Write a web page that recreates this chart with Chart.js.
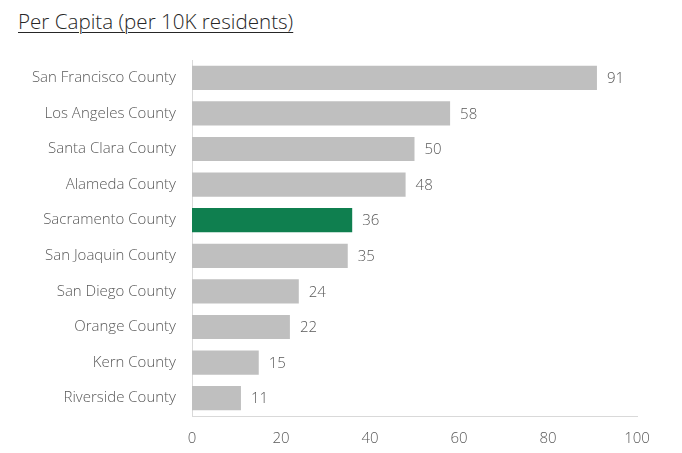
<!DOCTYPE html>
<html>
<head>
<meta charset="utf-8">
<script src="https://cdn.jsdelivr.net/npm/chart.js@4.4.1/dist/chart.umd.min.js"></script>
<style>
  html, body { margin: 0; padding: 0; background: #fff; }
  #wrap { position: relative; width: 682px; height: 453px; }
  #title {
    position: absolute; left: 18px; top: 7px;
    font-family: "Open Sans", sans-serif; font-weight: 300; font-size: 20.6px;
    color: #262626; text-decoration: underline; text-underline-offset: 3px;
    text-decoration-thickness: 1px; white-space: nowrap;
  }
  #chartBox { position: absolute; left: 0; top: 0; width: 682px; height: 453px; }
</style>
</head>
<body>
<div id="wrap">
  <div id="title">Per Capita (per 10K residents)</div>
  <div id="chartBox"><canvas id="perCapitaChart"></canvas></div>
</div>
<script>
const counties = [
  "San Francisco County", "Los Angeles County", "Santa Clara County", "Alameda County",
  "Sacramento County", "San Joaquin County", "San Diego County", "Orange County",
  "Kern County", "Riverside County"
];
const perCapita = [91, 58, 50, 48, 36, 35, 24, 22, 15, 11];
const highlightCounty = "Sacramento County";
const xTicks = [0, 20, 40, 60, 80, 100];

const GRAY = "#bfbfbf";
const GREEN = "#0f7f4f";
const TEXT = "#595959";
const FONT = "'Open Sans', sans-serif";

// draws the value next to each bar
const valueLabels = {
  id: "valueLabels",
  afterDatasetsDraw(chart) {
    const ctx = chart.ctx;
    const meta = chart.getDatasetMeta(0);
    ctx.save();
    ctx.font = "300 15px " + FONT;
    ctx.fillStyle = TEXT;
    ctx.textAlign = "left";
    ctx.textBaseline = "middle";
    meta.data.forEach((bar, i) => {
      ctx.fillText(String(perCapita[i]), bar.x + 10, bar.y + 1);
    });
    ctx.restore();
  },
};

const ctx = document.getElementById("perCapitaChart").getContext("2d");
new Chart(ctx, {
  type: "bar",
  data: {
    labels: counties,
    datasets: [
      {
        data: perCapita,
        backgroundColor: counties.map((c) => (c === highlightCounty ? GREEN : GRAY)),
        borderWidth: 0,
        categoryPercentage: 1,
        barPercentage: 0.68,
      },
    ],
  },
  options: {
    indexAxis: "y",
    responsive: true,
    maintainAspectRatio: false,
    animation: false,
    layout: { padding: { top: 60, right: 45, left: 0, bottom: 0 } },
    plugins: {
      legend: { display: false },
      tooltip: { enabled: false },
    },
    scales: {
      x: {
        min: 0,
        max: 100,
        afterBuildTicks: (scale) => {
          scale.ticks = xTicks.map((v) => ({ value: v }));
        },
        afterFit: (scale) => {
          scale.height = 37;
        },
        grid: { display: false, drawTicks: false },
        border: { display: true, color: "#d9d9d9", width: 1 },
        ticks: { color: TEXT, padding: 14, font: { family: FONT, size: 15, weight: 300 } },
      },
      y: {
        afterFit: (scale) => {
          scale.width = 192;
        },
        grid: { display: false, drawTicks: false },
        border: { display: true, color: "#d9d9d9", width: 1 },
        ticks: { color: TEXT, padding: 16, font: { family: FONT, size: 15, weight: 300 } },
      },
    },
  },
  plugins: [valueLabels],
});
</script>
</body>
</html>
